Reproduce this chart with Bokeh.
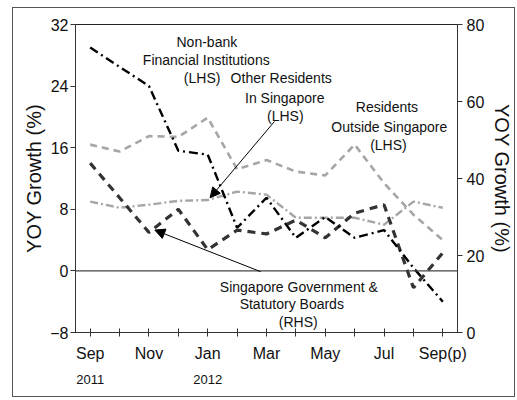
from bokeh.plotting import figure
from bokeh.models import (ColumnDataSource, Range1d, LinearAxis, FixedTicker, Span,
                          Arrow, NormalHead)
from bokeh.core.properties import value
from bokeh.embed import file_html
from bokeh.resources import INLINE

# ---- data ----
months = ["Sep", "Oct", "Nov", "Dec", "Jan", "Feb", "Mar", "Apr", "May", "Jun", "Jul", "Aug", "Sep(p)"]
years = {0: "2011", 4: "2012"}
nonbank = [29.0, 26.5, 24.0, 15.6, 15.1, 5.6, 9.5, 4.3, 7.0, 4.3, 5.3, 0.4, -4.0]          # LHS
other_res = [9.0, 8.2, 8.6, 9.1, 9.2, 10.3, 9.9, 6.9, 6.9, 6.9, 6.0, 9.0, 8.2]             # LHS
res_outside = [16.4, 15.5, 17.5, 17.4, 19.9, 13.2, 14.4, 12.9, 12.4, 16.4, 11.4, 7.3, 4.0]  # LHS
gov_rhs = [44, 35, 26, 32, 21.5, 26.6, 25.6, 29.2, 24.6, 31, 33.2, 11.6, 20.7]             # RHS
left_ticks = [-8, 0, 8, 16, 24, 32]
right_ticks = [0, 20, 40, 60, 80]

xs = list(range(len(months)))
src = ColumnDataSource(dict(x=xs, nonbank=nonbank, other=other_res, outside=res_outside, gov=gov_rhs))

FONT = "Liberation Sans"

p = figure(width=503, height=390, output_backend="svg", toolbar_location=None,
           x_range=Range1d(-0.5, 12.5), y_range=Range1d(-8, 32),
           min_border_left=62, min_border_right=58, min_border_top=16, min_border_bottom=66,
           x_axis_location=None, y_axis_location=None)
p.extra_y_ranges = {"rhs": Range1d(0, 80)}
p.grid.visible = False
p.outline_line_color = "#222222"
p.outline_line_width = 1
p.background_fill_color = "white"
p.border_fill_color = "white"
p.styles = {"border": "1px solid #555555", "margin-left": "12px", "margin-top": "7px"}

# axes
def style_axis(ax):
    ax.axis_line_color = "#333333"
    ax.major_tick_line_color = "#333333"
    ax.minor_tick_line_color = None
    ax.major_label_text_font = FONT
    ax.major_label_text_font_size = "16px"
    ax.major_label_text_color = "#111111"
    ax.axis_label_text_font = FONT
    ax.axis_label_text_font_size = "20px"
    ax.axis_label_text_font_style = "normal"
    ax.axis_label_text_color = "#111111"

yl = LinearAxis(ticker=FixedTicker(ticks=left_ticks), axis_label="YOY Growth (%)")
style_axis(yl)
yl.major_tick_in = 0
yl.major_tick_out = 5
yl.major_label_standoff = 2
yl.axis_label_standoff = 2
p.add_layout(yl, "left")

yr = LinearAxis(y_range_name="rhs", ticker=FixedTicker(ticks=right_ticks), axis_label="YOY Growth (%)")
style_axis(yr)
yr.major_tick_in = 0
yr.major_tick_out = 5
yr.major_label_standoff = 4
yr.axis_label_standoff = 4
p.add_layout(yr, "right")

xb = LinearAxis(ticker=FixedTicker(ticks=xs))
style_axis(xb)
xb.major_tick_in = 4
xb.major_tick_out = 4
xb.major_label_overrides = {i: (m if i % 2 == 0 else "") for i, m in enumerate(months)}
xb.major_label_standoff = 8
p.add_layout(xb, "below")

xy = LinearAxis(ticker=FixedTicker(ticks=list(years.keys())))
style_axis(xy)
xy.axis_line_color = None
xy.major_tick_line_color = None
xy.major_label_overrides = years
xy.major_label_text_font_size = "13px"
xy.major_label_standoff = 4
p.add_layout(xy, "below")

# zero line
p.add_layout(Span(location=0, dimension="width", line_color="#444444", line_width=1.2))

# series
p.line("x", "outside", source=src, line_color="#a6a6a6", line_width=2.6, line_dash="7 5")
p.line("x", "other", source=src, line_color="#a6a6a6", line_width=2.4, line_dash="8 3 2 3")
p.line("x", "gov", source=src, y_range_name="rhs", line_color="#333333", line_width=3.2, line_dash="8 6")
p.line("x", "nonbank", source=src, line_color="#000000", line_width=2.4, line_dash="9 4 2 4")

# annotation texts
lab_text = ["Non-bank", "Financial Institutions", "(LHS)",
            "Other Residents", "In Singapore", "(LHS)",
            "Residents", "Outside Singapore", "(LHS)",
            "Singapore Government &", "Statutory Boards", "(RHS)"]
lab_x = [3.97, 3.95, 3.81,
         6.5, 6.62, 6.64,
         10.1, 10.18, 10.15,
         7.10, 6.86, 7.08]
lab_y = [29.7, 27.4, 25.1,
         25.0, 22.5, 20.1,
         21.3, 18.7, 16.4,
         -2.1, -4.3, -6.6]
p.text(x=lab_x, y=lab_y, text=lab_text, text_font=value(FONT), text_font_size="14px",
       text_align="center", text_baseline="middle", text_color="#111111")

# arrows
p.add_layout(Arrow(x_start=6.27, y_start=19.4, x_end=4.08, y_end=9.5, line_color="black", line_width=1,
                   end=NormalHead(size=10, fill_color="black", line_color="black")))
p.add_layout(Arrow(x_start=5.8, y_start=-0.1, x_end=2.2, y_end=5.3, line_color="black", line_width=1,
                   end=NormalHead(size=10, fill_color="black", line_color="black")))

open("out.html", "w").write(file_html(p, INLINE))
